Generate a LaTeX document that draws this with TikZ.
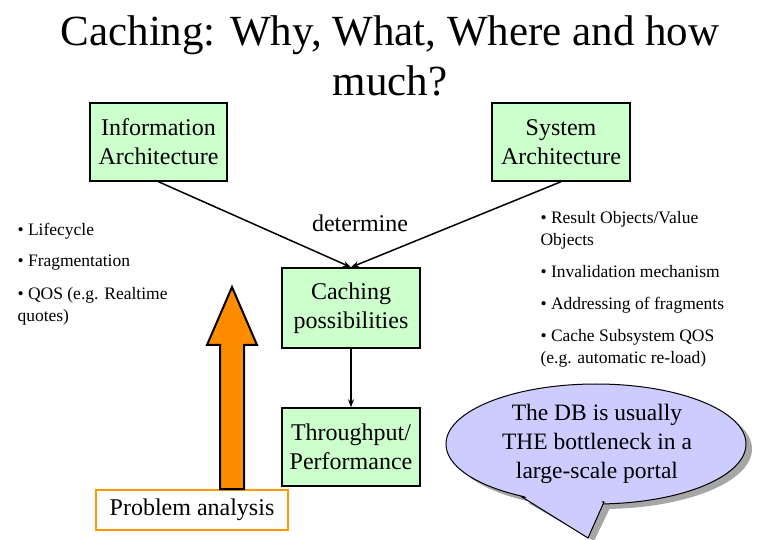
\documentclass[tikz,border=0pt]{standalone}
\usepackage{fontspec}
\usetikzlibrary{arrows.meta}
\setmainfont{Liberation Serif}
\begin{document}
\begin{tikzpicture}[x=1pt,y=-1pt,
  box/.style={draw,line width=1.5pt,fill=green!20,inner sep=0pt,align=center,font=\fontsize{24}{29}\selectfont},
  bul/.style={anchor=west,align=left,font=\fontsize{17.5}{22}\selectfont},
  conn/.style={line width=1.5pt,-{Stealth[length=8pt]}}]
\useasboundingbox (0,0) rectangle (780,540);
\node[font=\fontsize{43}{50}\selectfont,align=center] (title) at (390,56) {Caching: Why, What, Where and how\\much?};
\node[box,minimum width=137pt,minimum height=78pt] (ia) at (158.5,142) {Information\\Architecture};
\node[box,minimum width=138pt,minimum height=78pt] (sa) at (561,142) {System\\Architecture};
\node[box,minimum width=138pt,minimum height=80pt] (cp) at (351,308) {Caching\\possibilities};
\node[box,minimum width=138pt,minimum height=78pt] (tp) at (351,447) {Throughput/\\Performance};
\node[draw=orange!80!yellow,line width=2pt,minimum width=192pt,minimum height=40pt,inner sep=0pt,font=\fontsize{24}{28}\selectfont] (pa) at (192,510) {Problem analysis};
\node[font=\fontsize{24}{28}\selectfont] (det) at (360,223) {determine};
\draw[conn] (ia.south) -- (cp.north);
\draw[conn] (sa.south) -- (cp.north);
\draw[line width=1.5pt,-{Stealth[length=8pt]}] (cp.south) -- (tp.north);
\coordinate (tip) at (232,287);
\draw[line width=2pt,fill=orange!90!yellow] (220,489) -- (220,345) -- (207,345) -- (tip) -- (257,345) -- (244,345) -- (244,489) -- cycle;
\node[bul] (b1) at (14,231) {• Lifecycle};
\node[bul] (b2) at (14,263) {• Fragmentation};
\node[bul] (b3) at (14,306) {• QOS (e.g. Realtime\\quotes)};
\node[bul] (r1) at (537,230) {• Result Objects/Value\\Objects};
\node[bul] (r2) at (537,272) {• Invalidation mechanism};
\node[bul] (r3) at (537,305) {• Addressing of fragments};
\node[bul] (r4) at (537,348) {• Cache Subsystem QOS\\(e.g. automatic re-load)};
% callout shadow
\fill[gray!70] (602,449) ellipse (150 and 60);
\fill[gray!70] (528,503) -- (594,541) -- (610,508) -- cycle;
\draw[line width=1pt,fill=blue!20] (596,444) ellipse (150 and 60);
\draw[line width=1pt,fill=blue!20] (522,497) -- (588,538) -- (604,502) -- cycle;
\fill[blue!20] (524,496) -- (588,536) -- (602,501) -- (590,480) -- cycle;
\node[align=center,font=\fontsize{23.5}{29}\selectfont] (call) at (597,444) {The DB is usually\\THE bottleneck in a\\large-scale portal};
\end{tikzpicture}
\end{document}
